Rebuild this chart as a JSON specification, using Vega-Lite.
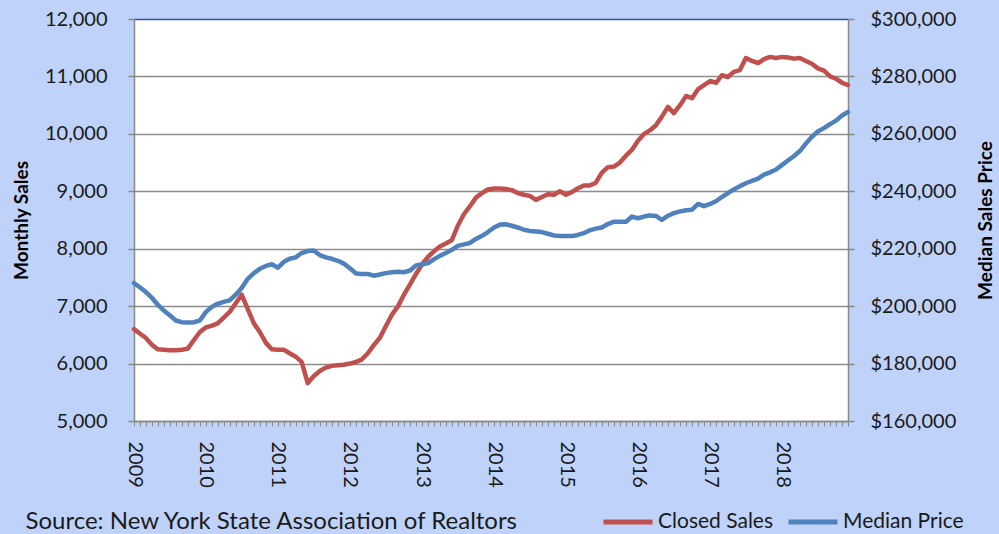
{
  "$schema": "https://vega.github.io/schema/vega-lite/v6.json",
  "width": 714,
  "height": 402,
  "autosize": {"type": "none"},
  "padding": {"left": 134, "top": 19, "right": 151, "bottom": 113},
  "background": "#bfd2f9",
  "config": {
    "font": "Lato",
    "view": {"fill": "white", "stroke": null},
    "axis": {"labelFont": "Lato", "titleFont": "Lato", "labelColor": "#1a1a1a", "titleColor": "#000000"}
  },
  "data": {
    "values": [
      {"month":"2009-01","sales":6600,"price":208000},
      {"month":"2009-02","sales":6520,"price":206500},
      {"month":"2009-03","sales":6450,"price":205000},
      {"month":"2009-04","sales":6330,"price":203000},
      {"month":"2009-05","sales":6250,"price":200500},
      {"month":"2009-06","sales":6240,"price":198500},
      {"month":"2009-07","sales":6230,"price":196800},
      {"month":"2009-08","sales":6230,"price":195000},
      {"month":"2009-09","sales":6240,"price":194400},
      {"month":"2009-10","sales":6260,"price":194300},
      {"month":"2009-11","sales":6410,"price":194400},
      {"month":"2009-12","sales":6550,"price":195000},
      {"month":"2010-01","sales":6630,"price":198000},
      {"month":"2010-02","sales":6660,"price":199800},
      {"month":"2010-03","sales":6700,"price":200800},
      {"month":"2010-04","sales":6800,"price":201500},
      {"month":"2010-05","sales":6900,"price":202000},
      {"month":"2010-06","sales":7050,"price":204000},
      {"month":"2010-07","sales":7200,"price":206300},
      {"month":"2010-08","sales":6950,"price":209500},
      {"month":"2010-09","sales":6700,"price":211500},
      {"month":"2010-10","sales":6550,"price":213000},
      {"month":"2010-11","sales":6360,"price":214000},
      {"month":"2010-12","sales":6250,"price":214600},
      {"month":"2011-01","sales":6240,"price":213400},
      {"month":"2011-02","sales":6240,"price":215500},
      {"month":"2011-03","sales":6180,"price":216500},
      {"month":"2011-04","sales":6120,"price":217000},
      {"month":"2011-05","sales":6030,"price":218500},
      {"month":"2011-06","sales":5660,"price":219200},
      {"month":"2011-07","sales":5780,"price":219400},
      {"month":"2011-08","sales":5870,"price":217800},
      {"month":"2011-09","sales":5930,"price":217000},
      {"month":"2011-10","sales":5960,"price":216500},
      {"month":"2011-11","sales":5970,"price":215800},
      {"month":"2011-12","sales":5980,"price":214800},
      {"month":"2012-01","sales":6000,"price":213200},
      {"month":"2012-02","sales":6030,"price":211400},
      {"month":"2012-03","sales":6070,"price":211200},
      {"month":"2012-04","sales":6180,"price":211200},
      {"month":"2012-05","sales":6320,"price":210600},
      {"month":"2012-06","sales":6450,"price":211000},
      {"month":"2012-07","sales":6650,"price":211500},
      {"month":"2012-08","sales":6850,"price":211800},
      {"month":"2012-09","sales":7000,"price":212000},
      {"month":"2012-10","sales":7200,"price":211800},
      {"month":"2012-11","sales":7380,"price":212400},
      {"month":"2012-12","sales":7560,"price":214200},
      {"month":"2013-01","sales":7730,"price":214600},
      {"month":"2013-02","sales":7860,"price":215000},
      {"month":"2013-03","sales":7950,"price":216300},
      {"month":"2013-04","sales":8040,"price":217500},
      {"month":"2013-05","sales":8090,"price":218500},
      {"month":"2013-06","sales":8150,"price":219600},
      {"month":"2013-07","sales":8400,"price":221000},
      {"month":"2013-08","sales":8600,"price":221500},
      {"month":"2013-09","sales":8740,"price":222000},
      {"month":"2013-10","sales":8890,"price":223400},
      {"month":"2013-11","sales":8970,"price":224500},
      {"month":"2013-12","sales":9030,"price":225800},
      {"month":"2014-01","sales":9050,"price":227400},
      {"month":"2014-02","sales":9050,"price":228400},
      {"month":"2014-03","sales":9040,"price":228500},
      {"month":"2014-04","sales":9020,"price":228000},
      {"month":"2014-05","sales":8970,"price":227400},
      {"month":"2014-06","sales":8940,"price":226600},
      {"month":"2014-07","sales":8920,"price":226200},
      {"month":"2014-08","sales":8850,"price":226000},
      {"month":"2014-09","sales":8900,"price":225800},
      {"month":"2014-10","sales":8950,"price":225200},
      {"month":"2014-11","sales":8940,"price":224600},
      {"month":"2014-12","sales":9000,"price":224400},
      {"month":"2015-01","sales":8940,"price":224400},
      {"month":"2015-02","sales":8990,"price":224400},
      {"month":"2015-03","sales":9050,"price":224800},
      {"month":"2015-04","sales":9100,"price":225400},
      {"month":"2015-05","sales":9100,"price":226400},
      {"month":"2015-06","sales":9150,"price":227000},
      {"month":"2015-07","sales":9320,"price":227400},
      {"month":"2015-08","sales":9420,"price":228600},
      {"month":"2015-09","sales":9430,"price":229400},
      {"month":"2015-10","sales":9500,"price":229400},
      {"month":"2015-11","sales":9620,"price":229400},
      {"month":"2015-12","sales":9720,"price":231200},
      {"month":"2016-01","sales":9880,"price":230600},
      {"month":"2016-02","sales":10000,"price":231200},
      {"month":"2016-03","sales":10060,"price":231600},
      {"month":"2016-04","sales":10150,"price":231400},
      {"month":"2016-05","sales":10300,"price":230000},
      {"month":"2016-06","sales":10470,"price":231500},
      {"month":"2016-07","sales":10360,"price":232400},
      {"month":"2016-08","sales":10500,"price":233000},
      {"month":"2016-09","sales":10660,"price":233400},
      {"month":"2016-10","sales":10620,"price":233600},
      {"month":"2016-11","sales":10780,"price":235600},
      {"month":"2016-12","sales":10850,"price":234800},
      {"month":"2017-01","sales":10920,"price":235600},
      {"month":"2017-02","sales":10890,"price":236600},
      {"month":"2017-03","sales":11020,"price":238000},
      {"month":"2017-04","sales":10990,"price":239400},
      {"month":"2017-05","sales":11080,"price":240600},
      {"month":"2017-06","sales":11110,"price":241800},
      {"month":"2017-07","sales":11320,"price":242800},
      {"month":"2017-08","sales":11270,"price":243600},
      {"month":"2017-09","sales":11230,"price":244400},
      {"month":"2017-10","sales":11300,"price":245800},
      {"month":"2017-11","sales":11340,"price":246600},
      {"month":"2017-12","sales":11320,"price":247600},
      {"month":"2018-01","sales":11340,"price":249200},
      {"month":"2018-02","sales":11330,"price":250800},
      {"month":"2018-03","sales":11310,"price":252200},
      {"month":"2018-04","sales":11320,"price":254000},
      {"month":"2018-05","sales":11270,"price":256600},
      {"month":"2018-06","sales":11220,"price":259000},
      {"month":"2018-07","sales":11140,"price":260800},
      {"month":"2018-08","sales":11100,"price":262000},
      {"month":"2018-09","sales":11000,"price":263400},
      {"month":"2018-10","sales":10960,"price":264600},
      {"month":"2018-11","sales":10890,"price":266400},
      {"month":"2018-12","sales":10850,"price":267600}
    ],
    "format": {"parse": {"month": "date:'%Y-%m'"}}
  },
  "encoding": {
    "x": {
      "field": "month",
      "type": "temporal",
      "scale": {"domain": [{"year": 2009, "month": 1, "date": 1}, {"year": 2018, "month": 12, "date": 1}]},
      "axis": {
        "title": "Source: New York State Association of Realtors",
        "titleFont": "Lato",
        "titleFontSize": 24,
        "titleFontWeight": "normal",
        "titleColor": "#1a1a1a",
        "titleAnchor": "start",
        "titleAlign": "left",
        "titleBaseline": "alphabetic",
        "titleX": -109,
        "titleY": 107,
        "grid": false,
        "tickCount": {"interval": "month", "step": 1},
        "labelExpr": "month(datum.value) == 0 ? timeFormat(datum.value, '%Y') : ''",
        "labelAngle": 90,
        "labelAlign": "left",
        "labelBaseline": "middle",
        "labelFontSize": 20,
        "labelPadding": 15,
        "labelOverlap": false,
        "labelFlush": false,
        "labelBound": false,
        "tickSize": 5,
        "tickColor": "#888888",
        "tickWidth": 1,
        "domainColor": "#888888",
        "domainWidth": 1.5
      }
    }
  },
  "layer": [
    {
      "mark": {"type": "line", "strokeWidth": 4.5, "strokeCap": "round", "strokeJoin": "round"},
      "encoding": {
        "y": {
          "field": "sales",
          "type": "quantitative",
          "scale": {"domain": [5000, 12000], "nice": false, "zero": false},
          "axis": {
            "title": "Monthly Sales",
            "titleFontSize": 19,
            "titleFontWeight": "bold",
            "titlePadding": 13,
            "values": [5000, 6000, 7000, 8000, 9000, 10000, 11000, 12000],
            "format": ",d",
            "labelFontSize": 20,
            "labelPadding": 21,
            "tickSize": 6,
            "tickColor": "#888888",
            "tickWidth": 1.5,
            "domainColor": "#888888",
            "domainWidth": 1.5,
            "grid": true,
            "gridColor": {"condition": {"test": "datum.value == 12000", "value": "#2f5597"}, "value": "#8c8c8c"},
            "gridWidth": 1.5
          }
        },
        "color": {
          "datum": "Closed Sales",
          "scale": {"domain": ["Closed Sales", "Median Price"], "range": ["#c0504d", "#4f81bd"]},
          "legend": {
            "title": null,
            "orient": "none",
            "legendX": 467,
            "legendY": 476,
            "direction": "horizontal",
            "symbolType": "stroke",
            "symbolSize": 2400,
            "symbolStrokeWidth": 5,
            "labelFontSize": 21,
            "labelFont": "Lato",
            "labelColor": "#1a1a1a",
            "labelOffset": 3,
            "columnPadding": 4
          }
        }
      }
    },
    {
      "mark": {"type": "line", "strokeWidth": 4.5, "strokeCap": "round", "strokeJoin": "round"},
      "encoding": {
        "y": {
          "field": "price",
          "type": "quantitative",
          "scale": {"domain": [160000, 300000], "nice": false, "zero": false},
          "axis": {
            "orient": "right",
            "title": "Median Sales Price",
            "titleFontSize": 19,
            "titleFontWeight": "bold",
            "titleAngle": 270,
            "titlePadding": 40,
            "values": [160000, 180000, 200000, 220000, 240000, 260000, 280000, 300000],
            "format": "$,d",
            "labelFontSize": 20,
            "labelPadding": 16,
            "tickSize": 6,
            "tickColor": "#888888",
            "tickWidth": 1.5,
            "domainColor": "#888888",
            "domainWidth": 1.5,
            "grid": false
          }
        },
        "color": {"datum": "Median Price"}
      }
    }
  ],
  "resolve": {"scale": {"y": "independent"}}
}
